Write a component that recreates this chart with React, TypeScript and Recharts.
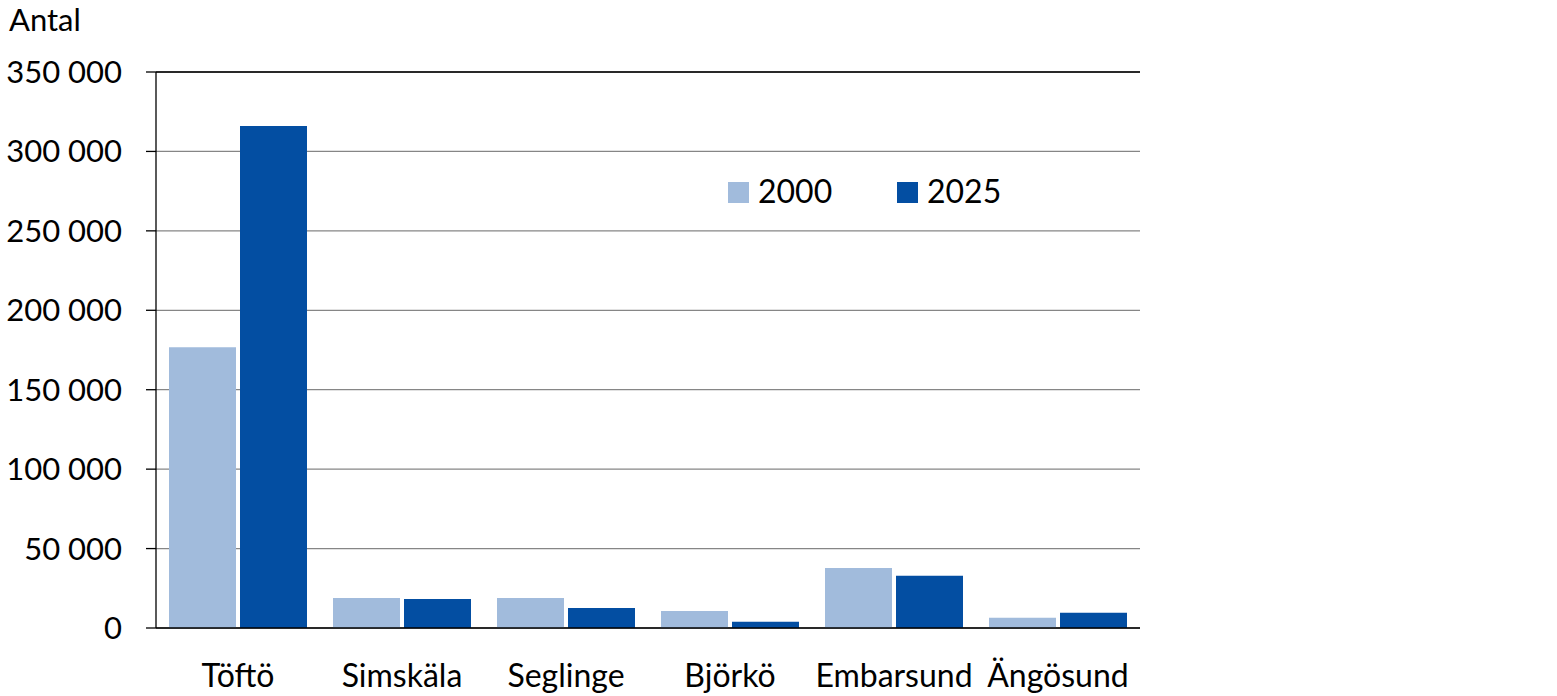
import { BarChart, Bar, XAxis, YAxis, CartesianGrid, ReferenceLine } from 'recharts';

const places = ['Töftö', 'Simskäla', 'Seglinge', 'Björkö', 'Embarsund', 'Ängösund'];
const values2000 = [176800, 18900, 18900, 10700, 37800, 6500];
const values2025 = [316000, 18300, 12600, 4000, 32900, 9600];
const yTicks = [0, 50000, 100000, 150000, 200000, 250000, 300000, 350000];

const LIGHT = '#A1BBDC';
const DARK = '#034EA2';
const FONT = 'Lato, "Open Sans", sans-serif';

const chartData = places.map((place, i) => ({
    place,
    y2000: values2000[i],
    y2025: values2025[i],
}));

// "350 000" style labels
const formatTick = (v: number) => v.toLocaleString('en-US').replace(/,/g, ' ');

// Legend drawn as an overlay so it doesn't take space from the plot area
const LegendOverlay = () => (
    <svg style={{ position: 'absolute', left: 700, top: 160, zIndex: 2 }} width={340} height={60}>
        <rect x={28} y={22} width={21} height={21} fill={LIGHT} />
        <text x={58} y={43} fontFamily={FONT} fontSize={32} fill="#000">2000</text>
        <rect x={197} y={22} width={21} height={21} fill={DARK} />
        <text x={227} y={43} fontFamily={FONT} fontSize={32} fill="#000">2025</text>
    </svg>
);

export default function App() {
    return (
        <div style={{ position: 'relative', width: 1557, height: 696, background: '#fff', overflow: 'hidden' }}>
            <style>{'html, body { margin: 0; padding: 0; overflow: hidden; }'}</style>
            <BarChart
                width={1557}
                height={696}
                data={chartData}
                margin={{ top: 72, right: 417, bottom: 38, left: 0 }}
                barCategoryGap={13}
                barGap={4}
                style={{ overflow: 'visible' }}
            >
                <CartesianGrid vertical={false} stroke="#868686" strokeWidth={1.3} />
                <XAxis
                    dataKey="place"
                    height={30}
                    axisLine={{ stroke: '#000', strokeWidth: 1.3 }}
                    tickLine={false}
                    tickSize={0}
                    tickMargin={36}
                    interval={0}
                    tick={{ fill: '#000', fontSize: 32, fontFamily: FONT }}
                />
                <YAxis
                    width={156}
                    domain={[0, 350000]}
                    ticks={yTicks}
                    interval={0}
                    tickFormatter={formatTick}
                    axisLine={{ stroke: '#000', strokeWidth: 1.3 }}
                    tickLine={{ stroke: '#000', strokeWidth: 1.3 }}
                    tickSize={10}
                    tickMargin={24}
                    tick={{ fill: '#000', fontSize: 31, fontFamily: FONT }}
                />
                <YAxis
                    yAxisId="right"
                    orientation="right"
                    width={0}
                    domain={[0, 350000]}
                    tick={false}
                    tickLine={false}
                    axisLine={{ stroke: '#000', strokeWidth: 1.3 }}
                />
                <ReferenceLine y={350000} stroke="#000" strokeWidth={1.3} />
                <Bar dataKey="y2000" name="2000" fill={LIGHT} isAnimationActive={false} />
                <Bar dataKey="y2025" name="2025" fill={DARK} isAnimationActive={false} />
            </BarChart>
            <LegendOverlay />
            <svg style={{ position: 'absolute', left: 0, top: 0, zIndex: 2 }} width={200} height={44}>
                <text x={9} y={31} fontFamily={FONT} fontSize={31} fill="#000">Antal</text>
            </svg>
        </div>
    );
}
